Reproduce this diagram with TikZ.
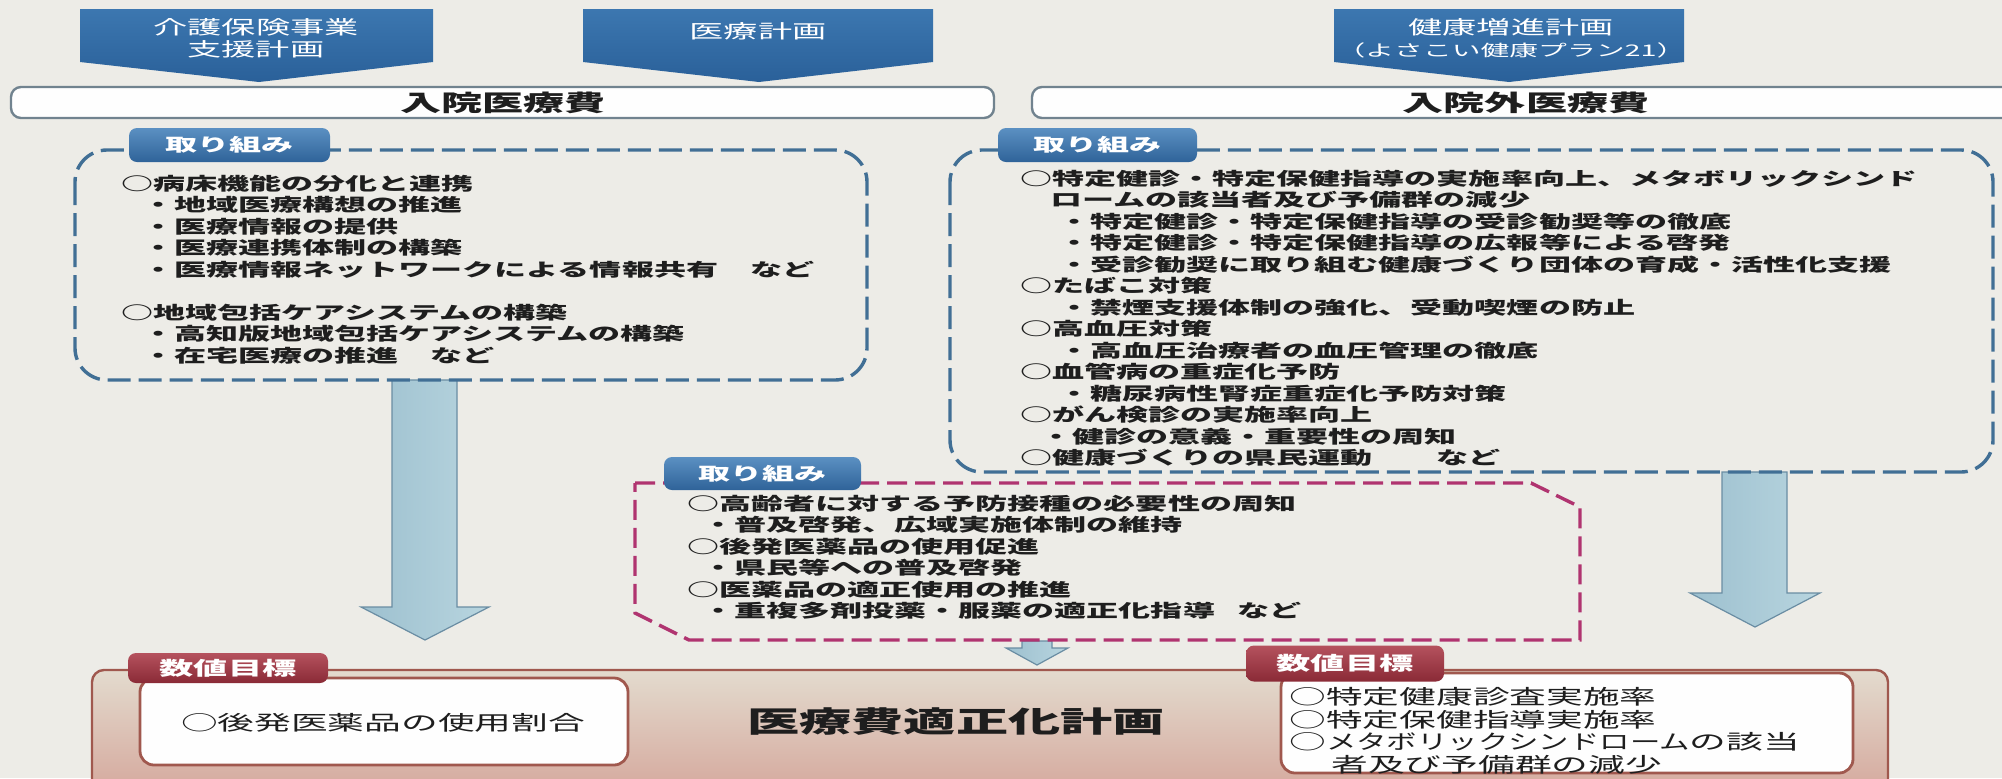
\documentclass[tikz,border=0pt]{standalone}
\usepackage{fontspec}
\setmainfont{Noto Sans CJK JP}[FakeStretch=1.8]
\newfontfamily\narrowkana{Noto Sans CJK JP}[FakeStretch=1.49]
\definecolor{paper}{HTML}{EDECE7}
\definecolor{pentblue}{HTML}{2A6099}
\definecolor{pentblueT}{HTML}{3C77B0}
\definecolor{dashblue}{HTML}{416F95}
\definecolor{tabblueT}{HTML}{5B90C2}
\definecolor{tabblueB}{HTML}{2F6399}
\definecolor{magline}{HTML}{B03470}
\definecolor{tabredT}{HTML}{B5525E}
\definecolor{tabredB}{HTML}{8A2A36}
\definecolor{boxred}{HTML}{A0584E}
\definecolor{bigT}{HTML}{E3DBCE}
\definecolor{bigB}{HTML}{D3A196}
\definecolor{arrowL}{HTML}{9DC0CF}
\definecolor{arrowR}{HTML}{B8D5DF}
\definecolor{arrowline}{HTML}{6A8DA3}
\definecolor{hdrline}{HTML}{71838F}
\definecolor{txt}{HTML}{1E1E1E}
\newcommand\bodyfont{\fontsize{8.9}{10.75}\selectfont\bfseries}
\newcommand\hdrfont{\fontsize{11.4}{12}\selectfont\bfseries}
\newcommand\titlefont{\fontsize{14.5}{15}\selectfont\bfseries}
\newcommand\pentfont{\fontsize{9.5}{11}\selectfont}
\newcommand\pentsmall{\fontsize{8}{11}\selectfont}
\newcommand\tabfont{\fontsize{8.9}{10}\selectfont\bfseries}
\newcommand\redtabfont{\fontsize{9.5}{10}\selectfont\bfseries}
\newcommand\goalfont{\fontsize{10.2}{11.35}\selectfont}
\tikzset{
  pentshape/.style={top color=pentblueT, bottom color=pentblue},
  penttext/.style={text=white, font=\pentfont, align=center, inner sep=0pt},
  hdrbox/.style={draw=hdrline, line width=1.2pt, fill=white!96!paper, rounded corners=5pt, inner sep=0pt},
  hdrtext/.style={text=txt, font=\hdrfont, inner sep=0pt},
  dashbox/.style={draw=dashblue, line width=1.7pt, dash pattern=on 11.5pt off 4pt, rounded corners=16pt},
  magbox/.style={draw=magline, line width=1.7pt, dash pattern=on 10pt off 4pt},
  tabblue/.style={top color=tabblueT, bottom color=tabblueB, rounded corners=4pt, text=white, font=\tabfont, inner sep=0pt},
  tabred/.style={top color=tabredT, bottom color=tabredB, rounded corners=4pt, text=white, font=\redtabfont, inner sep=0pt},
  bodytext/.style={text=txt, font=\bodyfont, align=left, inner sep=0pt, anchor=north west},
  bigarrow/.style={left color=arrowL, right color=arrowR, draw=arrowline, line width=0.6pt},
  bigbox/.style={top color=bigT, bottom color=bigB, draw=boxred, line width=1.2pt, rounded corners=6pt},
  goalbox/.style={fill=white!97!paper, draw=boxred, line width=1.4pt, rounded corners=7pt, inner sep=0pt},
  goaltext/.style={text=txt, font=\goalfont, align=left, inner sep=0pt}
}
\begin{document}
\begin{tikzpicture}[x=0.5pt,y=-0.5pt]
\useasboundingbox (0,0) rectangle (2002,778);
\fill[paper] (0,0) rectangle (2002,778);
% top plan pentagons
\shade[pentshape] (80,9) -- (433,9) -- (433,62) -- (259,82) -- (80,62) -- cycle;
\shade[pentshape] (583,9) -- (933,9) -- (933,62) -- (759,82) -- (583,62) -- cycle;
\shade[pentshape] (1334,9) -- (1684,9) -- (1684,62) -- (1509,82) -- (1334,62) -- cycle;
\node[penttext] (p1) at (256,38) {介護保険事業\\支援計画};
\node[penttext] (p2) at (758,31) {医療計画};
\node[penttext] (p3) at (1511,38) {健康増進計画\\{\pentsmall（よさこい健康プラン21）}};
% header boxes
\draw[hdrbox] (11,87) rectangle (994,118);
\node[hdrtext] (hdrL) at (503,103) {入院医療費};
\begin{scope}
\clip (0,0) rectangle (2002,778);
\draw[hdrbox] (1032,87) rectangle (2040,118);
\end{scope}
\node[hdrtext] (hdrR) at (1526,103) {入院外医療費};
% big arrows
\draw[bigarrow] (392,380) -- (457,380) -- (457,607) -- (489,607) -- (425,640) -- (361,607) -- (392,607) -- cycle;
\draw[bigarrow] (1722,472) -- (1787,472) -- (1787,593) -- (1820,593) -- (1755,627) -- (1690,593) -- (1722,593) -- cycle;
\draw[bigarrow] (1022,641) -- (1052,641) -- (1052,648) -- (1068,648) -- (1037,665) -- (1006,648) -- (1022,648) -- cycle;
% dashed boxes
\draw[dashbox] (75,150) rectangle (867,380);
\draw[dashbox] (950,150) rectangle (1993,472);
\draw[magbox] (635,483) -- (1531,483) -- (1580,507) -- (1580,640) -- (689,640) -- (635,613) -- cycle;
% tabs
\node[tabblue, minimum width=100.5pt, minimum height=17pt] (tabL) at (229.5,145) {取り組み};
\node[tabblue, minimum width=99.5pt, minimum height=17pt] (tabR) at (1097.5,145) {取り組み};
\node[tabblue, minimum width=98.5pt, minimum height=16.5pt] (tabM) at (762.5,473.5) {取り組み};
% box texts
\node[bodytext] (txtL) at (121,174.5) {○病床機能の分化と連携\\
\hspace*{10.5pt}・地域医療構想の推進\\
\hspace*{10.5pt}・医療情報の提供\\
\hspace*{10.5pt}・医療連携体制の構築\\
\hspace*{10.5pt}・医療情報ネットワークによる情報共有　など\\[10.75pt]
○地域包括ケアシステムの構築\\
\hspace*{10.5pt}・高知版地域包括ケアシステムの構築\\
\hspace*{10.5pt}・在宅医療の推進　など};
\node[bodytext] (txtR) at (1020,169.5) {○特定健診・特定保健指導の実施率向上、メタボリックシンド\\
\hspace*{15pt}ロームの該当者及び予備群の減少\\
\hspace*{19pt}・特定健診・特定保健指導の受診勧奨等の徹底\\
\hspace*{19pt}・特定健診・特定保健指導の広報等による啓発\\
\hspace*{19pt}・受診勧奨に取り組む健康づくり団体の育成・活性化支援\\
○たばこ対策\\
\hspace*{19pt}・禁煙支援体制の強化、受動喫煙の防止\\
○高血圧対策\\
\hspace*{19pt}・高血圧治療者の血圧管理の徹底\\
○血管病の重症化予防\\
\hspace*{19pt}・糖尿病性腎症重症化予防対策\\
○がん検診の実施率向上\\
\hspace*{10pt}・健診の意義・重要性の周知\\
○健康づくりの県民運動　　など};
\node[bodytext] (txtM) at (687,494.5) {○高齢者に対する予防接種の必要性の周知\\
\hspace*{7.5pt}・普及啓発、広域実施体制の維持\\
○後発医薬品の使用促進\\
\hspace*{7.5pt}・県民等への普及啓発\\
○医薬品の適正使用の推進\\
\hspace*{7.5pt}・重複多剤投薬・服薬の適正化指導\hspace{11pt}など};
% bottom plan box
\draw[bigbox] (92,670) rectangle (1888,810);
\node[text=txt, font=\titlefont, inner sep=0pt] (title) at (956,722) {医療費適正化計画};
\node[goalbox, minimum width=244pt, minimum height=43.5pt] (goalL) at (384,721.5) {};
\node[goaltext] (goalLtxt) at (383,723) {○後発医薬品の使用割合};
\node[goalbox, minimum width=286pt, minimum height=50pt] (goalR) at (1567,723) {};
\node[goaltext, anchor=north west] (goalRtxt) at (1289,687) {○特定健康診査実施率\\
○特定保健指導実施率\\
○{\narrowkana メタボリックシンドローム}の該当\\
\hspace*{21pt}者及び予備群の減少};
\node[tabred, minimum width=100pt, minimum height=15pt] (redL) at (228,668) {数値目標};
\node[tabred, minimum width=99pt, minimum height=18pt] (redR) at (1345,663.5) {数値目標};
\end{tikzpicture}
\end{document}
